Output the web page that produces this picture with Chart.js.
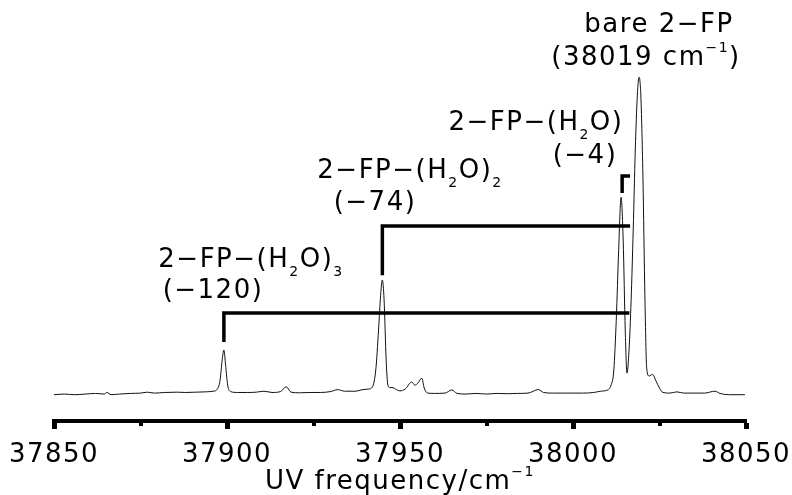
<!DOCTYPE html>
<html>
<head>
<meta charset="utf-8">
<script src="https://cdn.jsdelivr.net/npm/chart.js@4.4.1/dist/chart.umd.min.js"></script>
<style>
  body { margin: 0; background: #fff; }
  #wrap { width: 792px; height: 495px; }
</style>
</head>
<body>
<div id="wrap"><canvas id="spec"></canvas></div>
<script>
// UV frequency (cm-1) and signal (arb. units, tallest peak = 100)
const freq = [
  37850, 37853, 37856, 37859, 37862, 37864.5, 37865.3, 37866.5, 37869, 37872,
  37875, 37877, 37879, 37882, 37885.5, 37888, 37891, 37894, 37896, 37897,
  37898, 37898.6, 37899.1, 37899.6, 37900.2, 37901, 37903, 37906, 37908.5, 37910.7,
  37913, 37915.5, 37917.1, 37918.5, 37921, 37924, 37927, 37930, 37932, 37934,
  37937, 37939.3, 37941, 37942, 37943, 37943.8, 37944.4, 37944.9, 37945.4, 37946,
  37946.5, 37947, 37948, 37949, 37950, 37951.5, 37953.4, 37954.3, 37955.2, 37956.3,
  37957, 37958, 37960, 37963, 37965, 37966.5, 37969, 37972, 37975, 37978,
  37981, 37984, 37987, 37990, 37991.5, 37994, 37997, 38000, 38003, 38006,
  38008, 38010, 38011, 38011.8, 38012.5, 38013.2, 38013.9, 38014.5, 38015.1, 38015.6,
  38016.2, 38016.8, 38017.4, 38018, 38018.6, 38019.1, 38019.6, 38020.2, 38020.8, 38021.3,
  38022, 38023, 38024, 38025, 38026, 38028, 38030, 38032, 38035, 38038,
  38041, 38042.5, 38045, 38049.7
];
const signal = [
  -0.2, 0, -0.2, 0, 0.2, 0, 0.5, -0.2, 0, 0.2,
  0.3, 0.6, 0.3, 0.5, 0.6, 0.5, 0.6, 0.7, 0.9, 1.3,
  4.4, 10.7, 13.9, 9.1, 2.8, 0.8, 0.5, 0.5, 0.6, 0.9,
  0.5, 0.8, 2.3, 0.6, 0.4, 0.5, 0.5, 0.8, 1.4, 0.9,
  0.9, 1.4, 1.6, 2.2, 7.6, 20.2, 31.2, 36.0, 29.7, 10.7,
  2.8, 2.1, 2.0, 1.4, 1.0, 1.6, 3.8, 2.8, 3.5, 5.0,
  1.9, 0.3, 0.2, 0.3, 1.3, 0.2, 0, 0.2, 0, 0.2,
  0.1, 0.2, 0.3, 1.4, 0.5, 0.3, 0.3, 0.3, 0.3, 0.5,
  0.9, 1.3, 2.8, 7.6, 23.3, 45.4, 62.1, 48.6, 20.2, 6.6,
  13.9, 29.7, 51.7, 77.0, 94.3, 100, 94.3, 69.1, 29.7, 8.2,
  5.7, 6.2, 4.1, 1.9, 0.5, 0.3, 0.7, 0.3, 0.3, 0.3,
  0.9, 0.2, -0.2, -0.2
];
const majorTicks = [37850, 37900, 37950, 38000, 38050];
const minorTicks = [37875, 37925, 37975, 38025];

// assignment brackets: [peak position, bottom, top, right end]
const brackets = [
  [37899.1, 16.4, 25.6, 38016.3],
  [37944.9, 37.5, 53.0, 38016.5],
  [38014.2, 63.4, 68.8, 38016.5]
];

const FONT = '"DejaVu Sans", sans-serif';
const SPACING = '1.5px';

// parts: [text, 0 normal | 1 subscript | 2 superscript]
function richText(ctx, parts, cx, baseY) {
  ctx.save();
  ctx.letterSpacing = SPACING;
  ctx.fillStyle = '#000';
  ctx.textBaseline = 'alphabetic';
  ctx.textAlign = 'left';
  const fontOf = m => (m === 0 ? '26px ' : '14px ') + FONT;
  let total = 0;
  parts.forEach(([t, m]) => { ctx.font = fontOf(m); total += ctx.measureText(t).width; });
  let x = cx - total / 2;
  parts.forEach(([t, m]) => {
    ctx.font = fontOf(m);
    const dy = m === 1 ? 9 : (m === 2 ? -13 : 0);
    ctx.fillText(t, x, baseY + dy);
    x += ctx.measureText(t).width;
  });
  ctx.restore();
}

const decor = {
  id: 'decor',
  beforeDraw(chart) { chart.ctx.letterSpacing = SPACING; },
  afterDraw(chart) {
    const ctx = chart.ctx;
    const xs = chart.scales.x, ys = chart.scales.y;
    ctx.letterSpacing = '0px';
    // minor ticks
    ctx.fillStyle = '#000';
    minorTicks.forEach(v => {
      ctx.fillRect(Math.round(xs.getPixelForValue(v)) - 2, 423, 4, 3);
    });
    // brackets
    ctx.save();
    ctx.strokeStyle = '#000';
    ctx.lineWidth = 3.5;
    ctx.lineCap = 'butt';
    brackets.forEach(([p, lo, hi, end]) => {
      const x0 = xs.getPixelForValue(p), x1 = xs.getPixelForValue(end);
      const y0 = ys.getPixelForValue(lo), y1 = ys.getPixelForValue(hi);
      ctx.beginPath();
      ctx.moveTo(x0, y0);
      ctx.lineTo(x0, y1);
      ctx.lineTo(x1, y1);
      ctx.stroke();
    });
    ctx.restore();
    // labels
    richText(ctx, [['bare 2−FP', 0]], 659, 32);
    richText(ctx, [['(38019 cm', 0], ['−1', 2], [')', 0]], 646, 65);
    richText(ctx, [['2−FP−(H', 0], ['2', 1], ['O)', 0]], 536, 130);
    richText(ctx, [['(−4)', 0]], 585, 163);
    richText(ctx, [['2−FP−(H', 0], ['2', 1], ['O)', 0], ['2', 1]], 410, 178);
    richText(ctx, [['(−74)', 0]], 375, 210);
    richText(ctx, [['2−FP−(H', 0], ['2', 1], ['O)', 0], ['3', 1]], 251, 267);
    richText(ctx, [['(−120)', 0]], 213, 298);
    richText(ctx, [['UV frequency/cm', 0], ['−1', 2]], 400, 489);
  }
};

new Chart(document.getElementById('spec'), {
  type: 'line',
  data: {
    datasets: [{
      data: freq.map((f, i) => ({ x: f, y: signal[i] })),
      borderColor: '#111',
      borderWidth: 1,
      pointRadius: 0,
      cubicInterpolationMode: 'monotone'
    }]
  },
  options: {
    responsive: true,
    maintainAspectRatio: false,
    animation: false,
    layout: { padding: { left: 54, right: 46, top: 60, bottom: 0 } },
    plugins: { legend: { display: false }, tooltip: { enabled: false } },
    scales: {
      x: {
        type: 'linear',
        min: 37850,
        max: 38050,
        afterBuildTicks: s => { s.ticks = majorTicks.map(v => ({ value: v })); },
        afterFit: s => { s.height = 74; s.paddingLeft = 0; s.paddingRight = 0; },
        border: { display: true, width: 4, color: '#000' },
        grid: { drawOnChartArea: false, drawTicks: true, tickLength: 8, tickWidth: 5, tickColor: '#000' },
        ticks: {
          autoSkip: false,
          maxRotation: 0,
          padding: 11,
          color: '#000',
          font: { family: FONT, size: 26 },
          callback: v => String(v)
        }
      },
      y: {
        display: false,
        min: -8.5,
        max: 105.4
      }
    }
  },
  plugins: [decor]
});
</script>
</body>
</html>
